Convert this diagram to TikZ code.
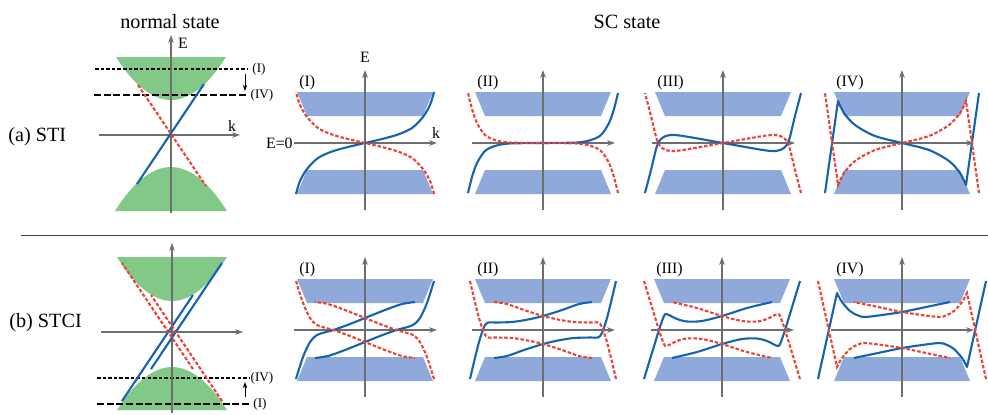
\documentclass[tikz,border=0pt]{standalone}
\usepackage{fontspec}
\setmainfont{Liberation Serif}
\newfontfamily\figserif{Liberation Serif}
\usetikzlibrary{arrows.meta}
\definecolor{SurfBlue}{HTML}{1762AE}
\definecolor{SurfRed}{HTML}{EA4336}
\definecolor{GapBlue}{HTML}{8FAADA}
\definecolor{BulkGreen}{HTML}{82C886}
\definecolor{AxisGray}{HTML}{6E6E6E}

% one SC panel: the two gap bands, the axes and its label
\newcommand{\scframe}[2]{%
  \fill[gapband] (-68,51) -- (68,51) -- (58,27) -- (-58,27) -- cycle;
  \fill[gapband] (-68,-51) -- (68,-51) -- (58,-27) -- (-58,-27) -- cycle;
  \draw[axis] (0,-67) -- (0,73);
  \draw[axis] (-71,0) -- (72,0);
  \node[panellabel] (#1) at (-66,60) {#2};
}
% a blue branch and its mirror image in k (red, dashed)
\newcommand{\toppair}[1]{\draw[surfline] #1; \draw[surfdash, xscale=-1] #1;}
% same for the two shifted cones of the STCI
\newcommand{\botquad}[1]{%
  \draw[surfline] #1; \draw[surfline, scale=-1] #1;
  \draw[surfdash, xscale=-1] #1; \draw[surfdash, yscale=-1] #1;}

\begin{document}
\begin{tikzpicture}[x=0.02cm, y=-0.02cm,
  axis/.style={AxisGray, line width=0.75pt, -{Stealth[length=4.5pt, width=3.2pt]}},
  gapband/.style={fill=GapBlue},
  bulk/.style={fill=BulkGreen},
  surfline/.style={SurfBlue, line width=1.2pt, line join=round},
  surfdash/.style={SurfRed, line width=1.2pt, dash pattern=on 2pt off 1.1pt},
  level/.style={black, line width=0.6pt, dash pattern=on 2pt off 1.2pt},
  levelthick/.style={black, line width=0.9pt, dash pattern=on 4pt off 1.5pt},
  shift arrow/.style={black, line width=0.5pt, -{Stealth[length=3.5pt, width=2.5pt]}},
  panellabel/.style={font=\figserif\fontsize{9}{10}\selectfont, anchor=west, inner sep=0pt},
  smalllabel/.style={font=\figserif\fontsize{7.5}{8}\selectfont, inner sep=0pt},
  axislabel/.style={font=\figserif\fontsize{9}{10}\selectfont, inner sep=0pt},
  title/.style={font=\figserif\fontsize{11.5}{13}\selectfont, inner sep=0pt}
]
  \useasboundingbox (0,0) rectangle (988,414);

  % headings
  \node[title] (normal) at (170,22) {normal state};
  \node[title] (sc) at (627,22) {SC state};
  \node[title, anchor=west] (sti) at (8,137) {(a) STI};
  \node[title, anchor=west] (stci) at (9,323) {(b) STCI};
  \draw[black!75, line width=0.5pt] (21,235) -- (988,235);

  % (a) normal state
  \begin{scope}[shift={(171,135)}, yscale=-1]
    \fill[bulk] (-55,78) parabola bend (0,35) (55,78) -- cycle;
    \fill[bulk] (-56,-76) parabola bend (0,-32) (56,-76) -- cycle;
    \draw[level] (-76,66) -- (77,66);
    \draw[levelthick] (-77,40) -- (76,40);
    \node[smalllabel] (muaI) at (88,66) {(I)};
    \node[smalllabel] (muaIV) at (91,40) {(IV)};
    \coordinate (aFrom) at (74,61);
    \coordinate (aTo) at (74,44);
    \draw[shift arrow] (aFrom) -- (aTo);
    \draw[axis] (0,-78) -- (0,100);
    \draw[axis] (-72,0) -- (69,0);
    \node[axislabel] (EN) at (12,92) {E};
    \node[axislabel] (kN) at (61,9) {k};
    \draw[surfline] (-34,-49) -- (33,51);
    \draw[surfdash] (-33,50) -- (35,-51);
  \end{scope}

  % (a) SC state
  \begin{scope}[shift={(365,143)}, yscale=-1]
    \scframe{aI}{(I)}
    \node[axislabel] (EaI) at (0,86) {E};
    \node[axislabel] (kaI) at (71,10) {k};
    \node[axislabel, anchor=east] (zeroaI) at (-72,0) {E=0};
    \toppair{plot[smooth] coordinates {(-69,-51) (-65,-38) (-58,-26) (-47,-15)
      (-33,-8.5) (-17,-4) (0,0) (17,4) (33,8.5) (47,15) (58,26) (65,38) (69,51)}}
  \end{scope}
  \begin{scope}[shift={(543,143)}, yscale=-1]
    \scframe{aII}{(II)}
    \toppair{plot[smooth] coordinates {(-75,-50) (-71,-34) (-66,-20) (-58,-8)
      (-48,-3) (-34,-0.5) (0,0) (34,0.5) (48,3) (58,8) (66,20) (71,34) (75,50)}}
  \end{scope}
  \begin{scope}[shift={(723,143)}, yscale=-1]
    \scframe{aIII}{(III)}
    \toppair{plot[smooth] coordinates {(-78,-50) (-72,-27) (-66,-3) (-61,5)
      (-53,8) (-40,7) (0,0) (40,-7) (53,-8) (61,-5) (66,3) (72,27) (78,50)}}
  \end{scope}
  \begin{scope}[shift={(902,143)}, yscale=-1]
    \scframe{aIV}{(IV)}
    \toppair{(-77,-50) -- plot[smooth] coordinates {(-64,42) (-58,30) (-47,18)
      (-27,7) (0,0) (27,-7) (47,-18) (58,-30) (64,-42)} -- (77,50)}
  \end{scope}

  % (b) normal state
  \begin{scope}[shift={(172,332)}, yscale=-1]
    \fill[bulk] (-55,75) parabola bend (0,31) (55,75) -- cycle;
    \fill[bulk] (-55,-78) parabola bend (0,-35) (55,-78) -- cycle;
    \draw[level] (-75,-46) -- (77,-46);
    \draw[levelthick] (-75,-72) -- (77,-72);
    \node[smalllabel] (mubIV) at (90,-46) {(IV)};
    \node[smalllabel] (mubI) at (88,-72) {(I)};
    \coordinate (bFrom) at (73,-65);
    \coordinate (bTo) at (73,-50);
    \draw[shift arrow] (bFrom) -- (bTo);
    \draw[axis] (0,-81) -- (0,89);
    \draw[axis] (-71,0) -- (71,0);
    \draw[surfline] (-50,-69) -- (21,37);
    \draw[surfline] (-21,-37) -- (50,69);
    \draw[surfdash] (50,-69) -- (-21,37);
    \draw[surfdash] (21,-37) -- (-50,69);
  \end{scope}

  % (b) SC state
  \begin{scope}[shift={(365,330)}, yscale=-1]
    \scframe{bI}{(I)}
    \botquad{plot[smooth] coordinates {(-69,-49) (-62,-27) (-55,-12) (-48,-5)
      (-37,-1.5) (-30,0.5) (-15,6) (0,12) (20,20) (37,26) (50,28)}}
  \end{scope}
  \begin{scope}[shift={(543,330)}, yscale=-1]
    \scframe{bII}{(II)}
    \botquad{plot[smooth] coordinates {(-73,-49) (-69,-32) (-64,-12) (-59,3)
      (-55,7.5) (-48,7.5) (-31,8) (-15,10.5) (0,14) (19,20) (36,26) (49,28)}}
  \end{scope}
  \begin{scope}[shift={(722,330)}, yscale=-1]
    \scframe{bIII}{(III)}
    \botquad{plot[smooth] coordinates {(-78,-49) (-63,0) (-58,14) (-56,16)
      (-52,14.5) (-45,11) (-35,8.5) (-20,9) (0,14) (25,22) (50,28)}}
  \end{scope}
  \begin{scope}[shift={(902,330)}, yscale=-1]
    \scframe{bIV}{(IV)}
    \botquad{(-84,-49) -- plot[smooth] coordinates {(-65,37) (-60,28) (-52,19)
      (-44,14.5) (-37,13) (-20,15) (0,18) (24,23) (48,28)}}
  \end{scope}
\end{tikzpicture}
\end{document}
